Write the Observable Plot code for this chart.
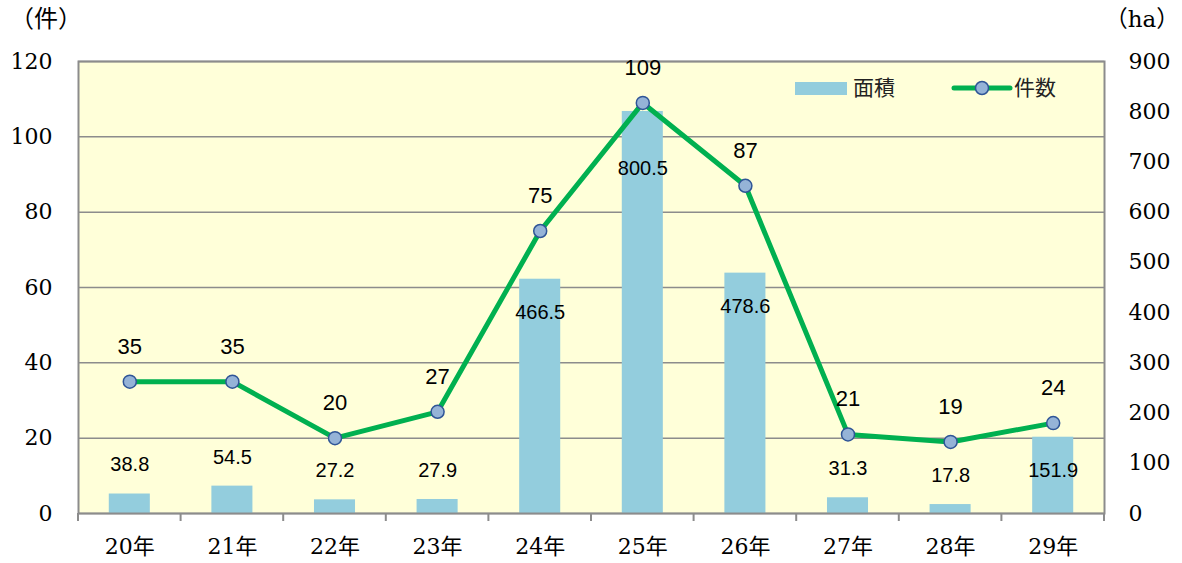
<!DOCTYPE html>
<html><head><meta charset="utf-8">
<script src="https://cdn.jsdelivr.net/npm/d3@7"></script>
<script src="https://cdn.jsdelivr.net/npm/@observablehq/plot@0.6"></script>
<style>body{margin:0;background:#fff;overflow:hidden}</style>
</head><body><div id="chart"></div>
<script>
const years = ["20年","21年","22年","23年","24年","25年","26年","27年","28年","29年"];
const counts = [35,35,20,27,75,109,87,21,19,24];
const areas = [38.8,54.5,27.2,27.9,466.5,800.5,478.6,31.3,17.8,151.9];
const leftTicks = [0,20,40,60,80,100,120];
const rightTicks = [0,100,200,300,400,500,600,700,800,900];
const leftUnit = "（件）";
const rightUnit = "（ha）";
const legendLabels = ["面積","件数"];

const RATIO = 900/120;
const data = years.map((year,i)=>({year, count:counts[i], area:areas[i]}));
const sans = "Liberation Sans, Arial, sans-serif";
const serif = "DejaVu Serif, Noto Sans CJK JP, serif";

const barLabel = (filter, dy) => Plot.text(data.filter(filter), {
  x:"year", y:d=>d.area/RATIO, text:d=>d.area.toFixed(1), dy,
  fontSize:20, fontFamily:sans, fill:"#000"
});

const plot = Plot.plot({
  width:1182, height:563, marginTop:61, marginBottom:50, marginLeft:78, marginRight:78,
  x:{type:"band", domain:years, paddingInner:0.6, paddingOuter:0.3, round:false, label:null},
  y:{domain:[0,120], label:null},
  style:{background:"transparent", overflow:"visible", color:"#000"},
  marks:[
    Plot.frame({fill:"#FFFFD9", stroke:null}),
    Plot.gridY(leftTicks, {stroke:"#8c8c8c", strokeOpacity:1, strokeWidth:1.5}),
    Plot.barY(data, {x:"year", y:d=>d.area/RATIO, fill:"#93CDDD"}),
    Plot.frame({stroke:"#8c8c8c", strokeWidth:2}),
    Plot.line(data, {x:"year", y:"count", stroke:"#00B050", strokeWidth:5}),
    Plot.dot(data, {x:"year", y:"count", r:6.5, fill:"#95B3D7", stroke:"#2F5597", strokeWidth:1.5}),
    Plot.text(data, {x:"year", y:"count", text:d=>String(d.count), dy:-35, fontSize:22, fontFamily:sans, fill:"#000"}),
    barLabel(d=>d.area < 100, -29),
    barLabel(d=>d.area >= 100 && d.area < 700, 33),
    barLabel(d=>d.area >= 700, 57),
    Plot.axisY(leftTicks, {anchor:"left", tickSize:0, tickPadding:26}),
    Plot.axisY(rightTicks.map(v=>v/RATIO), {anchor:"right", tickSize:0, tickPadding:24, tickFormat:d=>String(Math.round(d*RATIO))}),
    Plot.axisX({tickSize:0, tickPadding:25})
  ]
});

const svg = d3.select(plot);
svg.selectAll("[aria-label$='tick label'] text, [aria-label$='tick label']")
  .style("font-family", serif).style("font-size", "22px").style("fill", "#000");

const xs = plot.scale("x");
const step = xs.step, bw = xs.bandwidth;
const bottom = 563-50;
const bounds = years.map(c => xs.apply(c) - (step - bw)/2);
bounds.push(bounds[bounds.length-1] + step);
svg.append("g").selectAll("line").data(bounds).join("line")
  .attr("x1", d=>d).attr("x2", d=>d).attr("y1", bottom).attr("y2", bottom+8)
  .attr("stroke", "#8c8c8c").attr("stroke-width", 2);

// unit labels
svg.append("text").attr("x", 46).attr("y", 27).attr("text-anchor","middle")
  .style("font-family", "Noto Sans CJK JP, sans-serif").style("font-size", "24px").text(leftUnit);
svg.append("text").attr("x", 1142).attr("y", 27).attr("text-anchor","middle")
  .style("font-family", serif).style("font-size", "23px").text(rightUnit);

// legend
const lg = svg.append("g").style("font-family", "Noto Sans CJK JP, sans-serif").style("font-size", "21px").attr("fill", "#222").attr("text-anchor", "start");
lg.append("rect").attr("x", 795).attr("y", 82).attr("width", 52).attr("height", 13).attr("fill", "#93CDDD");
lg.append("text").attr("x", 853).attr("y", 88).attr("dy", "0.35em").attr("text-anchor", "start").text(legendLabels[0]);
lg.append("line").attr("x1", 954).attr("x2", 1010).attr("y1", 88).attr("y2", 88).attr("stroke", "#00B050").attr("stroke-width", 5).attr("stroke-linecap","round");
lg.append("circle").attr("cx", 982).attr("cy", 88).attr("r", 6.5).attr("fill", "#95B3D7").attr("stroke", "#2F5597").attr("stroke-width", 1.5);
lg.append("text").attr("x", 1014).attr("y", 88).attr("dy", "0.35em").attr("text-anchor", "start").text(legendLabels[1]);

document.getElementById("chart").appendChild(plot);
</script>
</body></html>
